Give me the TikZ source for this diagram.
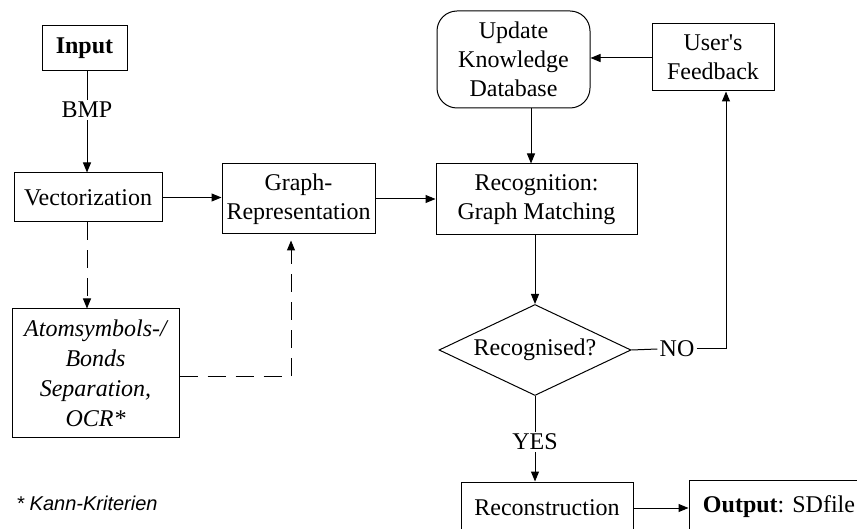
\documentclass[tikz,border=0pt]{standalone}
\usepackage{fontspec}
\setmainfont{Liberation Serif}
\newfontfamily\notefont{Liberation Sans}
\usetikzlibrary{shapes.geometric,arrows.meta}
\begin{document}
\begin{tikzpicture}[x=0.5pt,y=-0.5pt,
  every node/.style={font=\fontsize{12}{14.5}\selectfont},
  box/.style={draw,line width=0.5pt,inner sep=0pt,align=center},
  lbl/.style={inner sep=1pt},
  conn/.style={line width=0.5pt},
  arr/.style={conn,-{Triangle[length=5pt,width=4pt]}},
  dsh/.style={dash pattern=on 9pt off 5pt}]
\clip (0,0) rectangle (857,529);
\fill[white] (0,0) rectangle (857,529);
% nodes
\node[box,minimum width=42.5pt,minimum height=22.5pt] (input) at (84.5,48.5) {\textbf{Input}};
\node[lbl] (bmp) at (87,110) {BMP};
\node[box,minimum width=74pt,minimum height=24.5pt] (vect) at (88,197.5) {Vectorization};
\node[box,minimum width=76.5pt,minimum height=35pt] (graph) at (298.5,199) {Graph-\\Representation};
\node[box,minimum width=83.5pt,minimum height=64pt,font=\fontsize{12}{15}\selectfont\itshape] (atom) at (95.5,373) {Atomsymbols-/\\Bonds\\Separation,\\OCR*};
\node[box,rounded corners=10pt,minimum width=76.5pt,minimum height=48.5pt] (update) at (513.5,59.5) {Update\\Knowledge\\Database};
\node[box,minimum width=61pt,minimum height=33.5pt] (feedback) at (713,57.5) {User\textquotesingle s\\Feedback};
\node[box,minimum width=100.5pt,minimum height=35.5pt] (recog) at (536.5,199.5) {Recognition:\\Graph Matching};
\node[box,diamond,shape aspect=2.11,minimum width=96pt,minimum height=45.5pt] (dec) at (535,350) {Recognised?};
\node[lbl] (no) at (677,349) {NO};
\node[lbl] (yes) at (535,442) {YES};
\node[box,minimum width=86pt,minimum height=26pt] (recon) at (547,508) {Reconstruction};
\node[box,minimum width=90pt,minimum height=27pt] (output) at (779,507) {\textbf{Output}: SDfile};
\node[anchor=west,inner sep=0pt,font=\fontsize{10}{12}\selectfont\notefont\itshape] (note) at (16,503) {* Kann-Kriterien};
% coordinates
\coordinate (c1) at (291,376);
\coordinate (c2) at (726,349);
% connectors
\draw[conn] (input.south -| bmp) -- (bmp.north);
\draw[arr] (bmp.south) -- (vect.north -| bmp);
\draw[arr] (vect.east) -- (vect.east -| graph.west);
\draw[arr] (graph.east) -- (graph.east -| recog.west);
\draw[arr,dsh] (vect.south -| bmp) -- (atom.north -| bmp);
\draw[conn,dsh] (atom.east |- c1) -- (c1);
\draw[arr,dsh,shorten >=3pt] (c1) -- (c1 |- graph.south);
\draw[arr] (feedback.west |- 0,58) -- (update.east |- 0,58);
\draw[arr] (update.south -| 531,0) -- (recog.north -| 531,0);
\draw[arr] (recog.south -| dec.north) -- (dec.north);
\draw[conn] (dec.east) -- (no.west);
\draw[conn] (no.east) -- (c2);
\draw[arr] (c2) -- (c2 |- feedback.south);
\draw[conn] (dec.south) -- (yes.north);
\draw[arr] (yes.south) -- (yes.south |- recon.north);
\draw[arr] (recon.east) -- (recon.east -| output.west);
\end{tikzpicture}
\end{document}
